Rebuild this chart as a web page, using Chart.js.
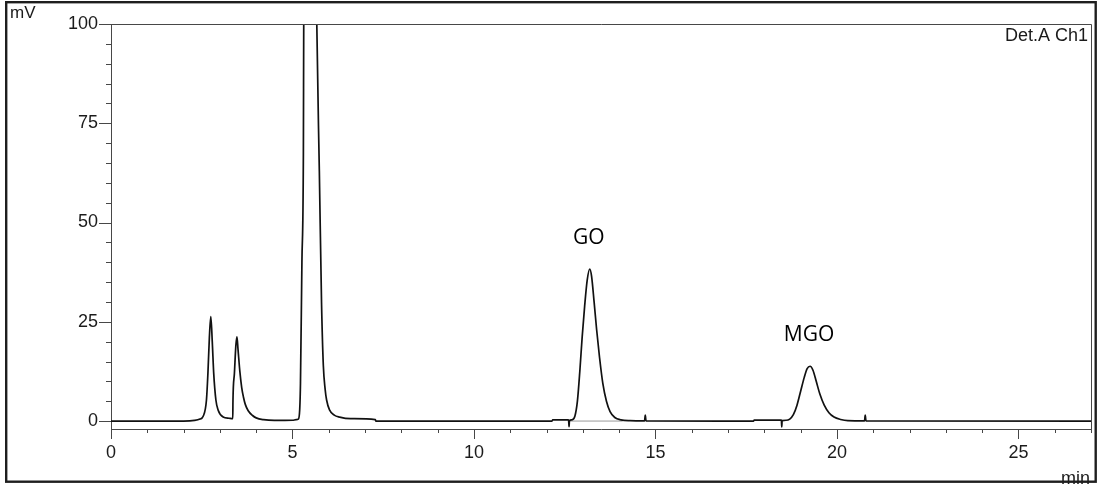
<!DOCTYPE html>
<html>
<head>
<meta charset="utf-8">
<title>Chromatogram - Det.A Ch1</title>
<script src="https://cdn.jsdelivr.net/npm/chart.js@4.4.1/dist/chart.umd.min.js"></script>
<style>
    html, body { margin: 0; padding: 0; background: #fff; }
    canvas { display: block; }
</style>
</head>
<body>
<canvas id="chromatogram" width="1100" height="488"></canvas>
<script>
// Retention time (min) and detector signal (mV)
const retentionTimes = [
    0, 2.0, 2.3, 2.45, 2.54, 2.63, 2.67, 2.71, 2.75, 2.79, 2.83, 2.89, 2.95, 3.09, 3.25, 3.355,
    3.36, 3.40, 3.44, 3.47, 3.50, 3.55, 3.60, 3.65, 3.70, 3.78, 3.90, 4.00, 4.20, 4.50, 5.00, 5.10,
    5.16, 5.20, 5.22, 5.26, 5.30, 5.31, 5.35, 5.50, 5.64, 5.67, 5.74, 5.80, 5.85, 5.90, 5.94, 6.02,
    6.15, 6.30, 6.60, 7.28, 7.30,
    12.15, 12.17, 12.60, 12.61, 12.62, 12.63, 12.70, 12.78, 12.85, 12.92, 12.98, 13.05, 13.12, 13.19,
    13.24, 13.31, 13.38, 13.46, 13.55, 13.65, 13.75, 13.88, 14.05, 14.30, 14.70, 14.72, 14.74,
    17.70, 17.72, 18.47, 18.48, 18.49, 18.60, 18.70, 18.80, 18.90, 19.00, 19.10, 19.18, 19.26,
    19.34, 19.43, 19.53, 19.65, 19.78, 19.92, 20.10, 20.30, 20.76, 20.78, 20.80, 27
];
const signalMv = [
    0, 0, 0.15, 0.5, 1.2, 5.3, 12, 21, 26.3, 20, 12, 5.3, 2.8, 1.0, 0.7, 0.6,
    5, 12, 19, 21.2, 18, 12.5, 8.5, 6, 4.2, 2.6, 1.4, 0.8, 0.35, 0.15, 0.2, 0.35,
    0.5, 3, 9.5, 40, 67, 100, 140, 160, 130, 100, 63, 30, 14, 8, 5.3, 2.8,
    1.5, 1.0, 0.6, 0.35, 0,
    0, 0.3, 0.3, 0, -1.4, 0.1, 0.3, 1.2, 5, 13, 21, 29, 35.5, 38.3,
    36.5, 30, 23, 16, 9.5, 5, 2.4, 0.9, 0.3, 0.1, 0.05, 1.5, 0.05,
    0, 0.25, 0.25, -1.5, 0.1, 0.2, 0.5, 1.6, 4, 7.5, 11, 13.2, 13.8,
    12.8, 10, 6.8, 4, 2.1, 1, 0.4, 0.1, 0.05, 1.5, 0.05, 0
];

// Integration baselines (grey) under the two labelled peaks
const baselineTimes = [12.62, 14.1, null, 18.48, 20.2];
const baselineMv = [0, 0, null, 0, 0];

// Peak labels
const peakNames = ['GO', 'MGO'];
const peakTimes = [13.19, 19.26];
const peakHeights = [38.3, 13.8];

// Axes
const xTicks = [0, 5, 10, 15, 20, 25];
const yTicks = [0, 25, 50, 75, 100];
const xRange = [0, 27];
const yRange = [-2, 100];
const xMinorStep = 1;
const yMinorStep = 5;

const tracePoints = retentionTimes.map((t, i) => ({ x: t, y: signalMv[i] }));
const baselinePoints = baselineTimes.map((t, i) => (t === null ? { x: NaN, y: null } : { x: t, y: baselineMv[i] }));

const axisColor = '#474747';
const textColor = '#1b1b1b';

// Minor/major tick marks, frame, captions and outer border
const decorations = {
    id: 'decorations',
    afterDraw(chart) {
        const { ctx, chartArea: a, scales: { x, y } } = chart;
        ctx.save();

        ctx.strokeStyle = axisColor;
        ctx.lineWidth = 1;
        ctx.beginPath();
        for (let t = xRange[0]; t <= xRange[1]; t += xMinorStep) {
            const px = Math.round(x.getPixelForValue(t)) + 0.5;
            const len = xTicks.includes(t) ? 10 : 4;
            ctx.moveTo(px, a.bottom);
            ctx.lineTo(px, a.bottom + len);
        }
        for (let v = 0; v <= yRange[1]; v += yMinorStep) {
            const py = Math.round(y.getPixelForValue(v)) + 0.5;
            const len = yTicks.includes(v) ? 12 : 5;
            ctx.moveTo(a.left, py);
            ctx.lineTo(a.left - len, py);
        }
        // top and right frame
        ctx.moveTo(a.left, Math.round(a.top) + 0.5);
        ctx.lineTo(Math.round(a.right) + 0.5, Math.round(a.top) + 0.5);
        ctx.lineTo(Math.round(a.right) + 0.5, a.bottom);
        ctx.stroke();

        // peak names
        ctx.fillStyle = '#000';
        ctx.font = '21px "Open Sans", sans-serif';
        ctx.textAlign = 'center';
        ctx.textBaseline = 'middle';
        peakNames.forEach((name, i) => {
            const px = x.getPixelForValue(peakTimes[i]);
            const py = y.getPixelForValue(peakHeights[i]);
            ctx.fillText(name, px - 1, py - 31);
        });

        // captions
        ctx.fillStyle = textColor;
        ctx.font = '17px "Liberation Sans", Arial, sans-serif';
        ctx.textAlign = 'left';
        ctx.fillText('mV', 10, 13);
        ctx.font = '18px "Liberation Sans", Arial, sans-serif';
        ctx.textAlign = 'right';
        ctx.fillText('Det.A Ch1', a.right - 3, 36);
        ctx.textBaseline = 'alphabetic';
        ctx.fillText('min', a.right - 1, 484);

        // outer border
        ctx.strokeStyle = '#1e1e1e';
        ctx.lineWidth = 2.4;
        ctx.strokeRect(6.2, 2.2, 1089.5, 479.5);
        ctx.restore();
    }
};

new Chart(document.getElementById('chromatogram'), {
    type: 'line',
    data: {
        datasets: [{
            label: 'Det.A Ch1',
            data: tracePoints,
            borderColor: '#111',
            borderWidth: 1.7,
            pointRadius: 0,
            cubicInterpolationMode: 'monotone',
            order: 1
        },
        {
            label: 'Baseline',
            data: baselinePoints,
            borderColor: '#9a9a9a',
            borderWidth: 1,
            pointRadius: 0,
            spanGaps: false,
            order: 2
        }]
    },
    options: {
        responsive: false,
        animation: false,
        parsing: false,
        layout: { padding: { top: 24, right: 9, left: 0, bottom: 0 } },
        plugins: {
            legend: { display: false },
            tooltip: { enabled: false }
        },
        scales: {
            x: {
                type: 'linear',
                min: xRange[0],
                max: xRange[1],
                afterFit: (scale) => { scale.height = 59; },
                afterBuildTicks: (scale) => { scale.ticks = xTicks.map(v => ({ value: v })); },
                grid: { display: true, drawOnChartArea: false, drawTicks: false },
                border: { display: true, color: axisColor, width: 1 },
                ticks: {
                    padding: 13,
                    color: textColor,
                    maxRotation: 0,
                    font: { family: '"Liberation Sans", Arial, sans-serif', size: 18 }
                }
            },
            y: {
                type: 'linear',
                min: yRange[0],
                max: yRange[1],
                afterFit: (scale) => { scale.width = 111; },
                afterBuildTicks: (scale) => { scale.ticks = yTicks.map(v => ({ value: v })); },
                grid: { display: true, drawOnChartArea: false, drawTicks: false },
                border: { display: true, color: axisColor, width: 1 },
                ticks: {
                    padding: 13,
                    color: textColor,
                    font: { family: '"Liberation Sans", Arial, sans-serif', size: 18 }
                }
            }
        }
    },
    plugins: [decorations]
});
</script>
</body>
</html>
